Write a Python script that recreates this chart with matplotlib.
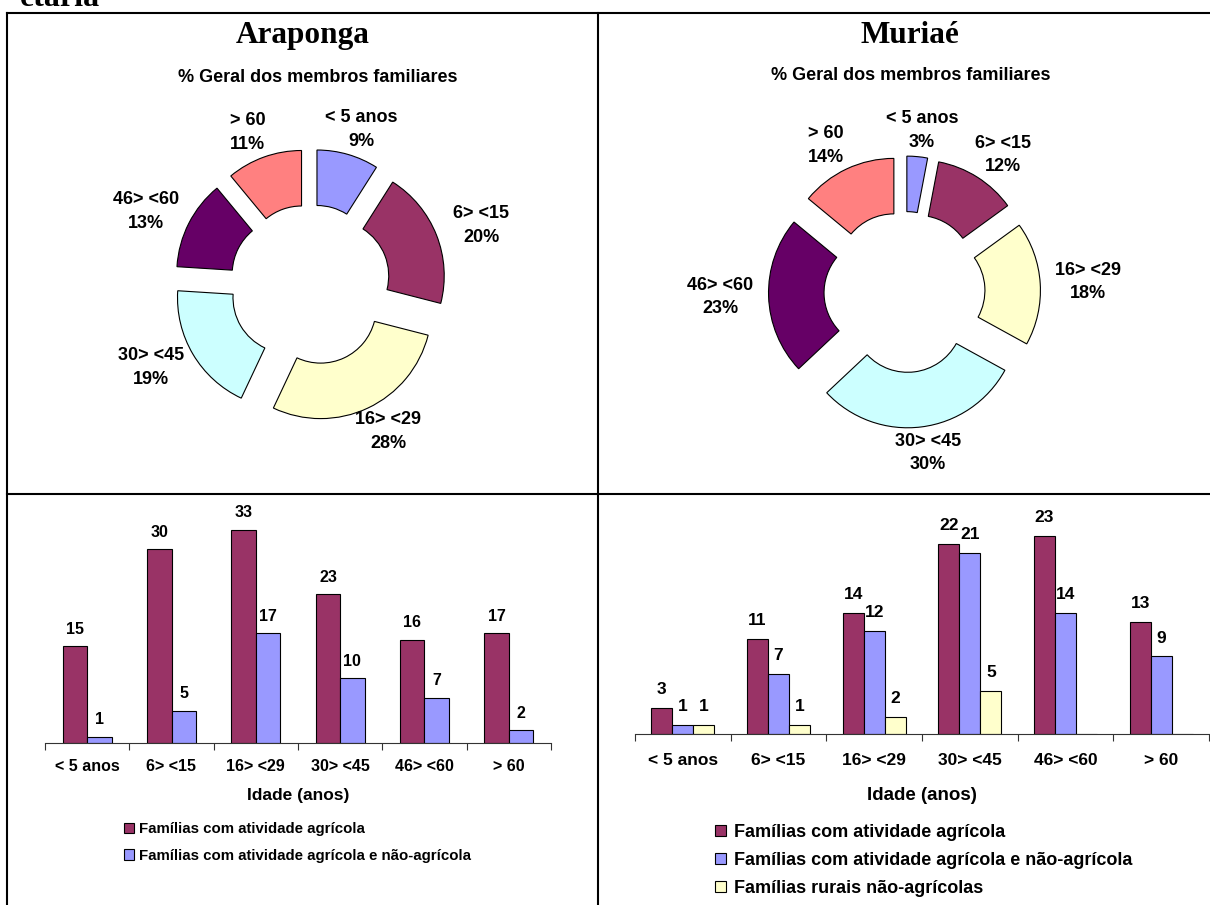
import numpy as np
import matplotlib
matplotlib.use('Agg')
import matplotlib.pyplot as plt
from matplotlib.lines import Line2D
from matplotlib.patches import Patch

# dados
faixas = ['< 5 anos', '6> <15', '16> <29', '30> <45', '46> <60', '> 60']
cores_pizza = ['#9999FF', '#993366', '#FFFFCC', '#CCFFFF', '#660066', '#FF8080']

arap_pct = [9, 20, 28, 19, 13, 11]
muri_pct = [3, 12, 18, 30, 23, 14]

arap_agricola = [15, 30, 33, 23, 16, 17]
arap_pluriativa = [1, 5, 17, 10, 7, 2]

muri_agricola = [3, 11, 14, 22, 23, 13]
muri_pluriativa = [1, 7, 12, 21, 14, 9]
muri_nao_agricola = [1, 1, 2, 5, 0, 0]

series_nomes = ['Famílias com atividade agrícola',
                'Famílias com atividade agrícola e não-agrícola',
                'Famílias rurais não-agrícolas']
cores_barras = ['#993366', '#9999FF', '#FFFFCC']

W, H = 1210, 905
plt.rcParams['font.family'] = ['Liberation Sans', 'DejaVu Sans']
plt.rcParams['font.weight'] = 'bold'
plt.rcParams['axes.labelweight'] = 'bold'


def px_axes(fig, left, top, width, height):
    # eixos posicionados em pixels (origem no canto superior esquerdo)
    return fig.add_axes([left / W, 1 - (top + height) / H, width / W, height / H])


def rosca(fig, cx, cy, valores):
    R = 111
    half = 200
    ax = px_axes(fig, cx - half, cy - half, 2 * half, 2 * half)
    wedges, _ = ax.pie(valores, colors=cores_pizza, startangle=90, counterclock=False,
                       radius=1, explode=[0.225] * len(valores),
                       wedgeprops=dict(width=0.5, edgecolor='black', linewidth=0.8))
    ax.set_xlim(-half / R, half / R)
    ax.set_ylim(-half / R, half / R)
    for w, nome, v in zip(wedges, faixas, valores):
        ang = np.deg2rad((w.theta1 + w.theta2) / 2)
        ax.text(1.66 * np.cos(ang), 1.46 * np.sin(ang), f'{nome}\n{v}%',
                ha='center', va='center', fontsize=13, linespacing=1.5)
    return ax


def barras(fig, left, right, base, escala, ymax, series, largura, fs_val, off_val,
           pad_lbl, fs_tick, fs_xlabel, labelpad):
    h = ymax * escala
    ax = px_axes(fig, left, base - h, right - left, h)
    x = np.arange(len(faixas))
    n = len(series)
    for k, vals in enumerate(series):
        pos = x + (k - (n - 1) / 2) * largura
        bars = ax.bar(pos, vals, largura, color=cores_barras[k], edgecolor='black', linewidth=0.8)
        for b, v in zip(bars, vals):
            if v > 0:
                ax.annotate(str(v), (b.get_x() + b.get_width() / 2, v), xytext=(0, off_val),
                            textcoords='offset points', ha='center', va='baseline', fontsize=fs_val)
    ax.set_xlim(-0.5, len(faixas) - 0.5)
    ax.set_ylim(0, ymax)
    ax.set_xticks(np.arange(-0.5, len(faixas), 1))
    ax.set_xticklabels([])
    ax.set_xticks(x, faixas, minor=True)
    ax.tick_params(axis='x', which='major', length=5, width=0.8, color='#333333')
    ax.tick_params(axis='x', which='minor', length=0, pad=pad_lbl, labelsize=fs_tick)
    ax.set_yticks([])
    for s in ['left', 'top', 'right']:
        ax.spines[s].set_visible(False)
    ax.spines['bottom'].set_linewidth(0.8)
    ax.spines['bottom'].set_color('#333333')
    ax.set_xlabel('Idade (anos)', fontsize=fs_xlabel, labelpad=labelpad)
    ax.patch.set_alpha(0)
    return ax


fig = plt.figure(figsize=(W / 100, H / 100), dpi=100)

# moldura da tabela
lw = 1.5
fig.add_artist(Line2D([7 / W, 1], [1 - 13 / H] * 2, color='black', lw=lw))
fig.add_artist(Line2D([7 / W] * 2, [1 - 13 / H, 0], color='black', lw=lw))
fig.add_artist(Line2D([598 / W] * 2, [1 - 13 / H, 0], color='black', lw=lw))
fig.add_artist(Line2D([7 / W, 1], [1 - 494 / H] * 2, color='black', lw=lw))

# resto do título do documento, cortado no topo como no original
fig.text(20 / W, 1 - 6 / H, 'etária', family='Liberation Serif', fontsize=23,
         ha='left', va='baseline')

# títulos
fig.text(303 / W, 1 - 43 / H, 'Araponga', family='Liberation Serif', fontsize=22.5,
         ha='center', va='baseline')
fig.text(910 / W, 1 - 43 / H, 'Muriaé', family='Liberation Serif', fontsize=22.5,
         ha='center', va='baseline')
fig.text(318 / W, 1 - 82 / H, '% Geral dos membros familiares', fontsize=13,
         ha='center', va='baseline')
fig.text(911 / W, 1 - 80 / H, '% Geral dos membros familiares', fontsize=13,
         ha='center', va='baseline')

rosca(fig, 310, 285, arap_pct)
rosca(fig, 904.5, 292, muri_pct)

barras(fig, 45, 551, 743, 6.46, 36, [arap_agricola, arap_pluriativa], 0.29,
       11.5, 9, 11.5, 11.5, 12.5, 10)
barras(fig, 635, 1209, 734, 8.62, 28, [muri_agricola, muri_pluriativa, muri_nao_agricola], 0.22,
       12.5, 10, 13.5, 12.5, 13.5, 14)

# legendas
h_arap = [Patch(facecolor=c, edgecolor='black', linewidth=0.8) for c in cores_barras[:2]]
fig.legend(h_arap, series_nomes[:2], loc='upper left', bbox_to_anchor=(124 / W, 1 - 822 / H),
           frameon=False, borderpad=0, borderaxespad=0, fontsize=10.8,
           handlelength=0.68, handleheight=0.68, handletextpad=0.3, labelspacing=0.85)
h_muri = [Patch(facecolor=c, edgecolor='black', linewidth=0.8) for c in cores_barras]
fig.legend(h_muri, series_nomes, loc='upper left', bbox_to_anchor=(715 / W, 1 - 824 / H),
           frameon=False, borderpad=0, borderaxespad=0, fontsize=13,
           handlelength=0.6, handleheight=0.6, handletextpad=0.45, labelspacing=0.6)

fig.savefig('out.png', dpi=100)
